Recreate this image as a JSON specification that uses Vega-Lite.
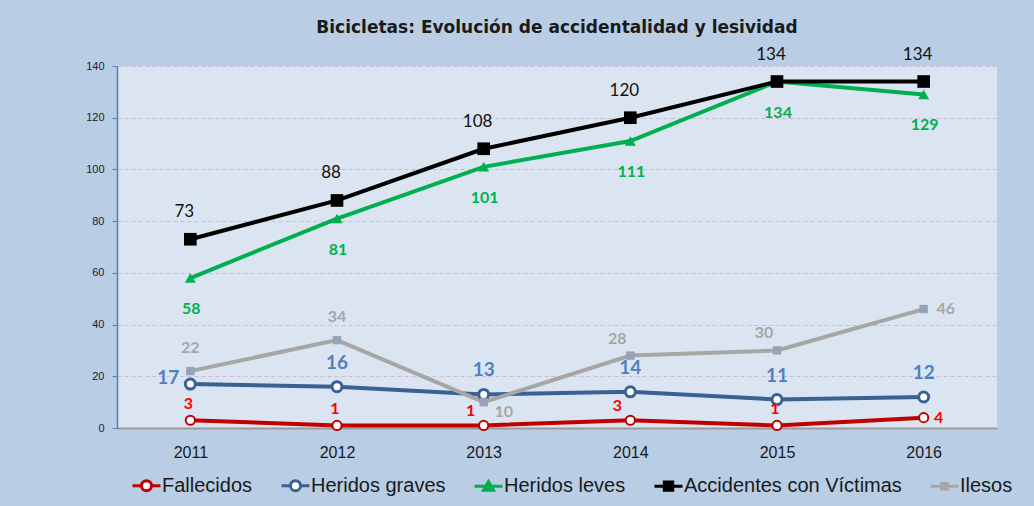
{
  "$schema": "https://vega.github.io/schema/vega-lite/v6.json",
  "width": 880,
  "height": 362,
  "autosize": {"type": "none"},
  "padding": {"left": 117, "top": 66, "right": 37, "bottom": 78},
  "background": "#b9cde5",
  "title": {
    "text": "Bicicletas: Evolución de accidentalidad y lesividad",
    "font": "DejaVu Sans",
    "fontSize": 17,
    "fontWeight": "bold",
    "color": "#1a1a1a",
    "anchor": "middle",
    "offset": 9
  },
  "config": {
    "view": {"fill": "#dbe5f1", "stroke": null},
    "font": "Liberation Sans",
    "legend": {
      "orient": "none",
      "legendX": 14,
      "legendY": 404,
      "direction": "horizontal",
      "title": null,
      "columnPadding": 22,
      "labelOffset": 0,
      "labelFontSize": 20,
      "labelLimit": 0,
      "labelFont": "Liberation Sans",
      "labelColor": "#1a1a1a",
      "symbolSize": 784,
      "symbolStrokeWidth": 3,
      "symbolOpacity": 1,
      "padding": 0
    }
  },
  "data": {
    "values": [
      {"year": "2011", "serie": "Fallecidos", "value": 3},
      {"year": "2012", "serie": "Fallecidos", "value": 1},
      {"year": "2013", "serie": "Fallecidos", "value": 1},
      {"year": "2014", "serie": "Fallecidos", "value": 3},
      {"year": "2015", "serie": "Fallecidos", "value": 1},
      {"year": "2016", "serie": "Fallecidos", "value": 4},
      {"year": "2011", "serie": "Heridos graves", "value": 17},
      {"year": "2012", "serie": "Heridos graves", "value": 16},
      {"year": "2013", "serie": "Heridos graves", "value": 13},
      {"year": "2014", "serie": "Heridos graves", "value": 14},
      {"year": "2015", "serie": "Heridos graves", "value": 11},
      {"year": "2016", "serie": "Heridos graves", "value": 12},
      {"year": "2011", "serie": "Heridos leves", "value": 58},
      {"year": "2012", "serie": "Heridos leves", "value": 81},
      {"year": "2013", "serie": "Heridos leves", "value": 101},
      {"year": "2014", "serie": "Heridos leves", "value": 111},
      {"year": "2015", "serie": "Heridos leves", "value": 134},
      {"year": "2016", "serie": "Heridos leves", "value": 129},
      {"year": "2011", "serie": "Accidentes con Víctimas", "value": 73},
      {"year": "2012", "serie": "Accidentes con Víctimas", "value": 88},
      {"year": "2013", "serie": "Accidentes con Víctimas", "value": 108},
      {"year": "2014", "serie": "Accidentes con Víctimas", "value": 120},
      {"year": "2015", "serie": "Accidentes con Víctimas", "value": 134},
      {"year": "2016", "serie": "Accidentes con Víctimas", "value": 134},
      {"year": "2011", "serie": "Ilesos", "value": 22},
      {"year": "2012", "serie": "Ilesos", "value": 34},
      {"year": "2013", "serie": "Ilesos", "value": 10},
      {"year": "2014", "serie": "Ilesos", "value": 28},
      {"year": "2015", "serie": "Ilesos", "value": 30},
      {"year": "2016", "serie": "Ilesos", "value": 46}
    ]
  },
  "encoding": {
    "x": {
      "field": "year",
      "type": "ordinal",
      "scale": {"type": "point", "padding": 0.5},
      "axis": {
        "title": null,
        "labelAngle": 0,
        "ticks": false,
        "domainColor": "#9a9a9a",
        "domainWidth": 2,
        "labelFontSize": 16,
        "labelColor": "#1a1a1a",
        "labelPadding": 16,
        "grid": false
      }
    },
    "y": {
      "field": "value",
      "type": "quantitative",
      "scale": {"domain": [0, 140], "nice": false},
      "axis": {
        "title": null,
        "values": [0, 20, 40, 60, 80, 100, 120, 140],
        "domainColor": "#4f81bd",
        "domainWidth": 1.5,
        "tickColor": "#4f81bd",
        "tickSize": 5,
        "labelFontSize": 11,
        "labelColor": "#222222",
        "labelPadding": 8,
        "gridColor": "#cdb9d8",
        "gridDash": [4, 3],
        "gridWidth": 1
      }
    }
  },
  "layer": [
    {
      "mark": {"type": "point", "filled": true, "size": 784, "strokeWidth": 3, "opacity": 0},
      "encoding": {
        "shape": {
          "field": "serie",
          "type": "nominal",
          "scale": {
            "domain": ["Fallecidos", "Heridos graves", "Heridos leves", "Accidentes con Víctimas", "Ilesos"],
            "range": [
              "M-1,0H-0.36M0.36,0H1M0.36,0A0.36,0.36,0,1,1,-0.36,0A0.36,0.36,0,1,1,0.36,0Z",
              "M-1,0H-0.36M0.36,0H1M0.36,0A0.36,0.36,0,1,1,-0.36,0A0.36,0.36,0,1,1,0.36,0Z",
              "M-1,0H1M0,-0.34L0.36,0.28L-0.36,0.28Z",
              "M-1,0H1M-0.3,-0.3H0.3V0.3H-0.3Z",
              "M-1,0H1M-0.2,-0.2H0.2V0.2H-0.2Z"
            ]
          },
          "legend": {"orient": "none", "legendX": 14, "legendY": 404, "direction": "horizontal", "title": null, "labelLimit": 0, "symbolOpacity": 1, "encode": {"symbols": {"update": {"opacity": {"value": 1}}}}}
        },
        "stroke": {
          "field": "serie",
          "type": "nominal",
          "scale": {
            "domain": ["Fallecidos", "Heridos graves", "Heridos leves", "Accidentes con Víctimas", "Ilesos"],
            "range": ["#c00000", "#3a6192", "#00b050", "#000000", "#a6a6a6"]
          },
          "legend": {"orient": "none", "legendX": 14, "legendY": 404, "direction": "horizontal", "title": null, "labelLimit": 0, "symbolOpacity": 1, "encode": {"symbols": {"update": {"opacity": {"value": 1}}}}}
        },
        "fill": {
          "field": "serie",
          "type": "nominal",
          "scale": {
            "domain": ["Fallecidos", "Heridos graves", "Heridos leves", "Accidentes con Víctimas", "Ilesos"],
            "range": ["#ffffff", "#ffffff", "#00b050", "#000000", "#95a3b8"]
          },
          "legend": {"orient": "none", "legendX": 14, "legendY": 404, "direction": "horizontal", "title": null, "labelLimit": 0, "symbolOpacity": 1, "encode": {"symbols": {"update": {"opacity": {"value": 1}}}}}
        }
      }
    },
    {
      "mark": {"type": "line", "strokeWidth": 4},
      "encoding": {
        "color": {
          "field": "serie",
          "type": "nominal",
          "scale": {
            "domain": ["Fallecidos", "Heridos graves", "Heridos leves", "Accidentes con Víctimas", "Ilesos"],
            "range": ["#c00000", "#3a6192", "#00b050", "#000000", "#a6a6a6"]
          },
          "legend": null
        }
      }
    },
    {
      "transform": [{"filter": "datum.serie == 'Fallecidos'"}],
      "mark": {"type": "point", "shape": "circle", "filled": true, "fill": "#ffffff", "stroke": "#c00000", "strokeWidth": 2, "size": 85, "opacity": 1}
    },
    {
      "transform": [{"filter": "datum.serie == 'Heridos graves'"}],
      "mark": {"type": "point", "shape": "circle", "filled": true, "fill": "#ffffff", "stroke": "#3a6192", "strokeWidth": 3, "size": 100, "opacity": 1}
    },
    {
      "transform": [{"filter": "datum.serie == 'Heridos leves'"}],
      "mark": {"type": "point", "shape": "triangle-up", "filled": true, "fill": "#00b050", "size": 120, "opacity": 1}
    },
    {
      "transform": [{"filter": "datum.serie == 'Accidentes con Víctimas'"}],
      "mark": {"type": "point", "shape": "square", "filled": true, "fill": "#000000", "size": 160, "opacity": 1}
    },
    {
      "transform": [{"filter": "datum.serie == 'Ilesos'"}],
      "mark": {"type": "point", "shape": "square", "filled": true, "fill": "#95a3b8", "size": 70, "opacity": 1}
    },
    {
      "transform": [{"filter": "datum.serie == 'Accidentes con Víctimas'"}],
      "mark": {"type": "text", "font": "Lato", "fontSize": 17, "color": "#111111", "dx": -6, "dy": -27},
      "encoding": {"text": {"field": "value", "type": "quantitative"}}
    },
    {
      "transform": [{"filter": "datum.serie == 'Heridos leves'"}],
      "mark": {"type": "text", "font": "Lato", "fontSize": 16, "fontWeight": "bold", "color": "#00b050", "dx": 1, "dy": 31},
      "encoding": {"text": {"field": "value", "type": "quantitative"}}
    },
    {
      "transform": [{"filter": "datum.serie == 'Heridos graves' && datum.year != '2011'"}],
      "mark": {"type": "text", "font": "Lato", "fontSize": 19, "fontWeight": "bold", "color": "#4f81bd", "dy": -24},
      "encoding": {"text": {"field": "value", "type": "quantitative"}}
    },
    {
      "transform": [{"filter": "datum.serie == 'Heridos graves' && datum.year == '2011'"}],
      "mark": {"type": "text", "font": "Lato", "fontSize": 19, "fontWeight": "bold", "color": "#4f81bd", "dx": -22, "dy": -6},
      "encoding": {"text": {"field": "value", "type": "quantitative"}}
    },
    {
      "transform": [{"filter": "datum.serie == 'Fallecidos' && (datum.year == '2011' || datum.year == '2012' || datum.year == '2015')"}],
      "mark": {"type": "text", "font": "Lato", "fontSize": 16, "fontWeight": "bold", "color": "#ff0000", "dx": -2, "dy": -16},
      "encoding": {"text": {"field": "value", "type": "quantitative"}}
    },
    {
      "transform": [{"filter": "datum.serie == 'Fallecidos' && (datum.year == '2013' || datum.year == '2014')"}],
      "mark": {"type": "text", "font": "Lato", "fontSize": 16, "fontWeight": "bold", "color": "#ff0000", "dx": -13, "dy": -14},
      "encoding": {"text": {"field": "value", "type": "quantitative"}}
    },
    {
      "transform": [{"filter": "datum.serie == 'Fallecidos' && datum.year == '2016'"}],
      "mark": {"type": "text", "font": "Lato", "fontSize": 16, "fontWeight": "bold", "color": "#ff0000", "dx": 15, "dy": 0},
      "encoding": {"text": {"field": "value", "type": "quantitative"}}
    },
    {
      "transform": [{"filter": "datum.serie == 'Ilesos' && (datum.year == '2011' || datum.year == '2012')"}],
      "mark": {"type": "text", "font": "Lato", "fontSize": 16, "fontWeight": "bold", "color": "#a6a6a6", "dy": -23},
      "encoding": {"text": {"field": "value", "type": "quantitative"}}
    },
    {
      "transform": [{"filter": "datum.serie == 'Ilesos' && (datum.year == '2014' || datum.year == '2015')"}],
      "mark": {"type": "text", "font": "Lato", "fontSize": 16, "fontWeight": "bold", "color": "#a6a6a6", "dx": -13, "dy": -17},
      "encoding": {"text": {"field": "value", "type": "quantitative"}}
    },
    {
      "transform": [{"filter": "datum.serie == 'Ilesos' && datum.year == '2013'"}],
      "mark": {"type": "text", "font": "Lato", "fontSize": 16, "fontWeight": "bold", "color": "#a6a6a6", "dx": 20, "dy": 10},
      "encoding": {"text": {"field": "value", "type": "quantitative"}}
    },
    {
      "transform": [{"filter": "datum.serie == 'Ilesos' && datum.year == '2016'"}],
      "mark": {"type": "text", "font": "Lato", "fontSize": 16, "fontWeight": "bold", "color": "#a6a6a6", "dx": 22, "dy": 0},
      "encoding": {"text": {"field": "value", "type": "quantitative"}}
    }
  ]
}
